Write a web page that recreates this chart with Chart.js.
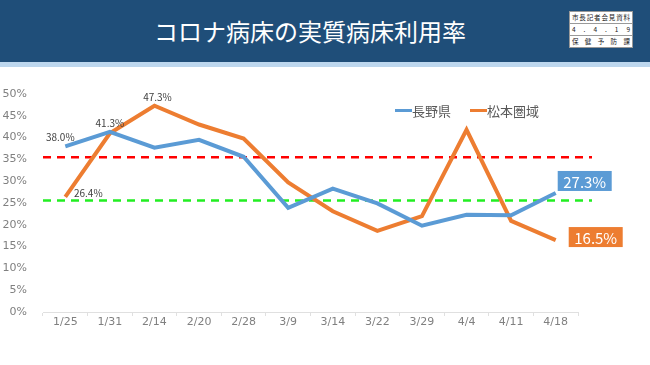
<!DOCTYPE html>
<html lang="ja">
<head>
<meta charset="utf-8">
<script src="https://cdn.jsdelivr.net/npm/chart.js@4"></script>
<style>
    body { margin: 0; width: 650px; height: 365px; background: #fff; position: relative; overflow: hidden;
           font-family: 'Noto Sans CJK JP', 'Noto Sans', sans-serif; }
    .header { position: absolute; left: 0; top: 0; width: 650px; height: 62px; background: #1f4e79; }
    .strip { position: absolute; left: 0; top: 62px; width: 650px; height: 5px; background: #bdd7ee; }
    .title { position: absolute; left: 0; width: 620px; top: 14px; text-align: center; color: #fff; font-size: 24px; line-height: 34px; }
    .badge { position: absolute; left: 569px; top: 11px; width: 62px; height: 35px; background: #fff; border: 1px solid #999; }
    .badge div { height: 11px; line-height: 11px; font-size: 6.5px; color: #222; border-bottom: 1px solid #999; text-align: justify; text-align-last: justify; padding: 0 2px; }
    .badge div:last-child { border-bottom: none; }
    .legend { position: absolute; top: 101px; left: 395px; font-size: 13px; color: #595959; display: flex; align-items: center; z-index: 2; }
    .legend span.m { display: inline-block; width: 17px; height: 3px; margin-right: 0; }
    .legend span.t { margin-right: 19px; }
    #chart { position: absolute; left: 0; top: 0; }
</style>
</head>
<body>
<div class="header"></div>
<div class="strip"></div>
<div class="title">コロナ病床の実質病床利用率</div>
<div class="badge">
    <div>市長記者会見資料</div>
    <div>4 . 4 . 1 9</div>
    <div>保 健 予 防 課</div>
</div>
<canvas id="chart" width="650" height="365"></canvas>
<div class="legend">
    <span class="m" style="background:#5b9bd5"></span><span class="t">長野県</span>
    <span class="m" style="background:#ed7d31"></span><span class="t">松本圏域</span>
</div>
<script>
const dates = ['1/25', '1/31', '2/14', '2/20', '2/28', '3/9', '3/14', '3/22', '3/29', '4/4', '4/11', '4/18'];
const naganoRate = [38.0, 41.3, 37.7, 39.5, 35.6, 23.9, 28.3, 24.9, 19.8, 22.3, 22.2, 27.3];
const matsumotoRate = [26.4, 41.0, 47.3, 43.0, 39.8, 29.7, 23.1, 18.6, 22.0, 41.8, 20.9, 16.5];
const thresholds = [35.5, 25.6];
const thresholdColors = ['#ff0000', '#22ee22'];

// dashed reference lines, a bit longer than the plot area like the original
const thresholdPlugin = {
    id: 'thresholds',
    beforeDatasetsDraw(chart) {
        const { ctx, chartArea, scales } = chart;
        ctx.save();
        ctx.lineWidth = 2.5;
        ctx.setLineDash([8, 6]);
        thresholds.forEach(function (v, i) {
            const y = scales.y.getPixelForValue(v);
            ctx.strokeStyle = thresholdColors[i];
            ctx.beginPath();
            ctx.moveTo(chartArea.left, y);
            ctx.lineTo(chartArea.right + 14, y);
            ctx.stroke();
        });
        ctx.restore();
    }
};

// value labels: [dataset, index, dx, dy, boxed]
const labelSpots = [
    [0, 0, -5, -9, false],
    [0, 1, 0, -9, false],
    [1, 2, 3, -9, false],
    [1, 0, 23, -4, false],
    [0, 11, 29, -12, true],
    [1, 11, 40, -3, true]
];

const labelPlugin = {
    id: 'valueLabels',
    afterDatasetsDraw(chart) {
        const ctx = chart.ctx;
        ctx.save();
        ctx.textAlign = 'center';
        ctx.textBaseline = 'middle';
        labelSpots.forEach(function (s) {
            const ds = chart.data.datasets[s[0]];
            const pt = chart.getDatasetMeta(s[0]).data[s[1]];
            const text = ds.data[s[1]].toFixed(1) + '%';
            const x = pt.x + s[2];
            const y = pt.y + s[3];
            if (s[4]) {
                ctx.font = "15px 'Noto Sans CJK JP', sans-serif";
                ctx.fillStyle = ds.borderColor;
                ctx.fillRect(x - 27, y - 10, 54, 20);
                ctx.fillStyle = '#ffffff';
                ctx.fillText(text, x, y + 1);
            } else {
                ctx.font = "10px 'Noto Sans CJK JP', sans-serif";
                ctx.fillStyle = '#404040';
                ctx.fillText(text, x, y);
            }
        });
        ctx.restore();
    }
};

const tickFont = { family: "'DejaVu Sans', sans-serif", size: 11 };

new Chart(document.getElementById('chart'), {
    type: 'line',
    data: {
        labels: dates,
        datasets: [{
            label: '長野県',
            data: naganoRate,
            borderColor: '#5b9bd5',
            borderWidth: 4,
            pointRadius: 0,
            tension: 0
        }, {
            label: '松本圏域',
            data: matsumotoRate,
            borderColor: '#ed7d31',
            borderWidth: 4,
            pointRadius: 0,
            tension: 0
        }]
    },
    options: {
        responsive: false,
        animation: false,
        layout: { padding: { left: 0, top: 94, right: 72, bottom: 33 } },
        plugins: {
            legend: { display: false },
            tooltip: { enabled: false }
        },
        scales: {
            x: {
                offset: true,
                afterFit(scale) { scale.height = 20; },
                grid: { display: true, drawOnChartArea: false, offset: true, tickLength: 4, color: '#e0e0e0' },
                border: { color: '#e0e0e0' },
                ticks: { color: '#808080', padding: 0, maxRotation: 0, autoSkip: false, font: tickFont }
            },
            y: {
                min: 0,
                max: 50,
                afterFit(scale) { scale.width = 43; },
                grid: { display: false },
                border: { display: false },
                ticks: {
                    stepSize: 5,
                    padding: 8,
                    color: '#808080',
                    font: tickFont,
                    callback: function (v) { return v + '%'; }
                }
            }
        }
    },
    plugins: [thresholdPlugin, labelPlugin]
});
</script>
</body>
</html>
